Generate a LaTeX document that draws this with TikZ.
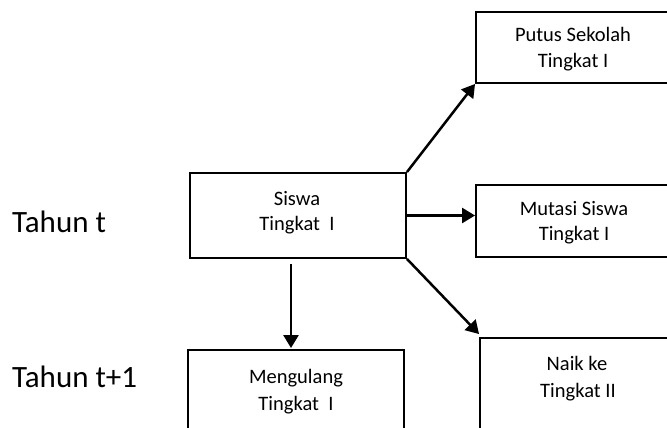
\documentclass[tikz,border=0pt]{standalone}
\usepackage{fontspec}
\setmainfont{Carlito}
\usetikzlibrary{arrows.meta}
\begin{document}
\begin{tikzpicture}[x=1pt,y=-1pt,
  box/.style={draw, line width=1.9pt, rectangle, inner sep=0pt},
  lbl/.style={font=\fontsize{20.5}{26.5}\selectfont, anchor=base, inner sep=0pt},
  yearlbl/.style={font=\fontsize{31}{37}\selectfont, anchor=base west, inner sep=0pt},
  flow/.style={line width=2.5pt, -{Triangle[length=13pt,width=15pt]}}]
  \useasboundingbox (0,0) rectangle (667,428);

  % year labels
  \node[yearlbl] (tt)  at (12,232) {Tahun t};
  \node[yearlbl] (tt1) at (12,387) {Tahun t+1};

  % boxes
  \node[box, minimum width=216pt, minimum height=85pt] (siswa) at (298,215.5) {};
  \node[box, minimum width=194pt, minimum height=71pt] (putus) at (573,47.5) {};
  \node[box, minimum width=194pt, minimum height=72pt] (mutasi) at (573,221) {};
  \node[box, minimum width=216pt, minimum height=84pt] (ulang) at (296,392) {};
  \node[box, minimum width=194pt, minimum height=110pt] (naik) at (577,393) {};

  % box texts, one node per line
  \node[lbl] (siswa1) at (297,205) {Siswa};
  \node[lbl] (siswa2) at (297,230) {Tingkat\ \ I};
  \node[lbl] (putus1) at (573,42) {Putus Sekolah};
  \node[lbl] (putus2) at (573,67) {Tingkat I};
  \node[lbl] (mutasi1) at (574,215) {Mutasi Siswa};
  \node[lbl] (mutasi2) at (574,240) {Tingkat I};
  \node[lbl] (ulang1) at (296,383) {Mengulang};
  \node[lbl] (ulang2) at (296,410) {Tingkat\ \ I};
  \node[lbl] (naik1) at (577,370) {Naik ke};
  \node[lbl] (naik2) at (578,397) {Tingkat II};

  % transitions
  \draw[flow] (siswa.north east) -- (putus.south west);
  \draw[flow] (siswa.east) -- (siswa.east -| mutasi.west);
  \draw[flow] (siswa.south east) -- ([yshift=3pt]naik.north west);
  \draw[flow] ([xshift=-7pt,yshift=-5pt]siswa.south) -- ([xshift=-5pt,yshift=1pt]ulang.north);
\end{tikzpicture}
\end{document}
